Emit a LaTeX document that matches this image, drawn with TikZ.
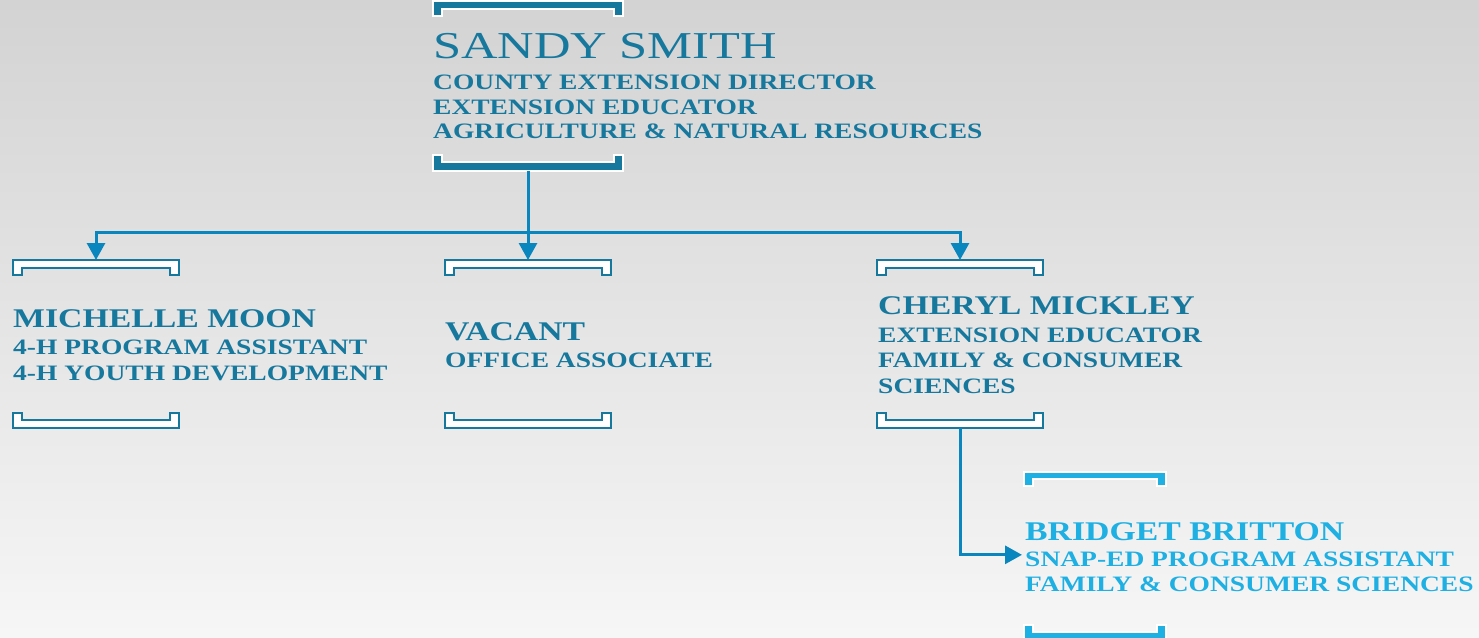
\documentclass[tikz,border=0pt]{standalone}
\usepackage{fontspec}
\usetikzlibrary{arrows.meta}
\newfontfamily\engraved{Liberation Serif}[FakeStretch=1.25]
\newfontfamily\engravedwide{Liberation Serif}[FakeStretch=1.33]
\definecolor{orgteal}{HTML}{17789E}
\definecolor{orglink}{HTML}{0A86BF}
\definecolor{orgsky}{HTML}{1EAFE3}
\definecolor{bgtop}{HTML}{D3D3D3}
\definecolor{bgbot}{HTML}{F6F6F6}
\tikzset{
  capbox/.style={minimum width=#1, minimum height=15pt, inner sep=0pt, outer sep=0pt},
  boss cap/.style={fill=orgteal, draw=white, line width=1.5pt},
  staff cap/.style={fill=white, draw=orgteal, line width=2pt},
  aide cap/.style={fill=orgsky, draw=white, line width=1.5pt},
  chief/.style={anchor=base west, inner sep=0pt, text=orgteal,
    font=\engravedwide\fontsize{38}{40}\selectfont},
  staffer/.style={anchor=base west, inner sep=0pt, text=orgteal,
    font=\engraved\bfseries\fontsize{27}{29}\selectfont},
  duty/.style={anchor=base west, inner sep=0pt, text=orgteal,
    font=\engraved\bfseries\fontsize{22}{24}\selectfont},
  link/.style={draw=orglink, line width=3pt},
  tip/.style={-{Triangle[length=17pt,width=18pt]}}
}
% bracket with its legs pointing down / up
\newcommand{\legsdown}[2]{\draw[#2] (#1.north west) -- (#1.north east) -- (#1.south east)
  -- ++(-9,0) -- ++(0,-7) -| ([xshift=9pt]#1.south west) -- (#1.south west) -- cycle;}
\newcommand{\legsup}[2]{\draw[#2] (#1.south west) -- (#1.south east) -- (#1.north east)
  -- ++(-9,0) -- ++(0,7) -| ([xshift=9pt]#1.north west) -- (#1.north west) -- cycle;}
\begin{document}
\begin{tikzpicture}[x=1pt,y=-1pt]
  \useasboundingbox (0,0) rectangle (1479,637);
  \shade[top color=bgtop, bottom color=bgbot] (0,0) rectangle (1479,637);

  % director
  \node[capbox=190pt] (sandytop) at (528,8.5) {};
  \node[capbox=190pt,minimum height=16pt] (sandybot) at (528,163) {};
  \legsdown{sandytop}{boss cap}
  \legsup{sandybot}{boss cap}
  \node[chief] (sandy) at (433,58) {SANDY SMITH};
  \foreach \t [count=\i] in {COUNTY EXTENSION DIRECTOR, EXTENSION EDUCATOR,
      AGRICULTURE \& NATURAL RESOURCES}
    \node[duty] (sandy\i) at (433,65+\i*24.5) {\t};

  % staff row
  \foreach \who/\cx in {mich/96, vac/528, cher/960} {
    \node[capbox=166pt] (\who top) at (\cx,267.5) {};
    \node[capbox=166pt] (\who bot) at (\cx,420) {};
    \legsdown{\who top}{staff cap}
    \legsup{\who bot}{staff cap}
  }
  \node[staffer] (mich) at (13,327) {MICHELLE MOON};
  \foreach \t [count=\i] in {4-H PROGRAM ASSISTANT, 4-H YOUTH DEVELOPMENT}
    \node[duty] (mich\i) at (13,328+\i*26) {\t};
  \node[staffer] (vac) at (445,340) {VACANT};
  \node[duty] (vac1) at (445,367) {OFFICE ASSOCIATE};
  \node[staffer] (cher) at (878,314) {CHERYL MICKLEY};
  \foreach \t [count=\i] in {EXTENSION EDUCATOR, FAMILY \& CONSUMER, SCIENCES}
    \node[duty] (cher\i) at (878,316.5+\i*25.5) {\t};

  % assistant
  \node[capbox=142pt,minimum height=14pt] (bridtop) at (1095,479) {};
  \node[capbox=142pt] (bridbot) at (1095,632.5) {};
  \legsdown{bridtop}{aide cap}
  \legsup{bridbot}{aide cap}
  \node[staffer,text=orgsky] (brid) at (1025,540) {BRIDGET BRITTON};
  \foreach \t [count=\i] in {SNAP-ED PROGRAM ASSISTANT, FAMILY \& CONSUMER SCIENCES}
    \node[duty,text=orgsky] (brid\i) at (1025,540.5+\i*25.5) {\t};

  % connectors
  \coordinate (split) at (528,232);
  \draw[link,tip] (sandybot.south) -- (vactop.north);
  \draw[link,tip] (split) -| (michtop.north);
  \draw[link,tip] (split) -| (chertop.north);
  \draw[link,tip,shorten >=3pt] (cherbot.south) |- ([yshift=4pt]brid1.west);
\end{tikzpicture}
\end{document}
